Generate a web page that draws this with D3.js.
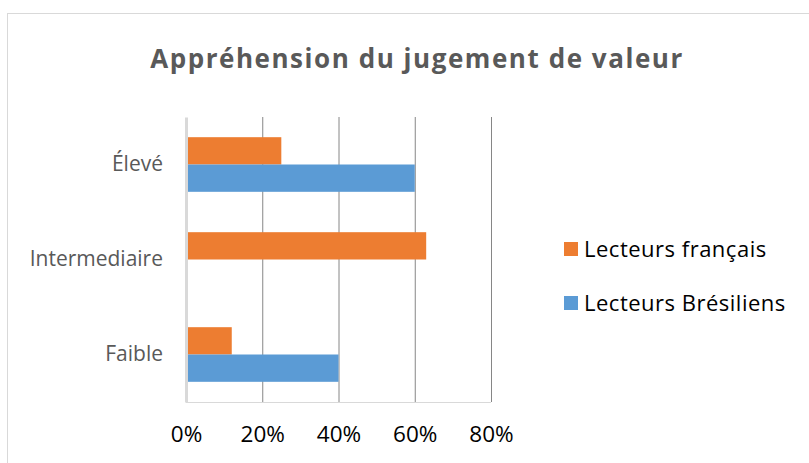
<!DOCTYPE html>
<html>
<head>
<meta charset="utf-8">
<script src="https://d3js.org/d3.v7.min.js"></script>
<style>
  body { margin: 0; background: #fff; }
  text { font-family: "Open Sans", Lato, sans-serif; }
</style>
</head>
<body>
<div id="chart"></div>
<script>
// data
const categories = ["Élevé", "Intermediaire", "Faible"];
const seriesNames = ["Lecteurs français", "Lecteurs Brésiliens"];
const francais = [0.25, 0.63, 0.12];
const bresiliens = [0.60, 0, 0.40];
const xTicks = [0, 0.2, 0.4, 0.6, 0.8];
const colors = ["#ed7d31", "#5b9bd5"];

const W = 809, H = 463;
const margin = {top: 117, right: 318, bottom: 61, left: 186};
const width = W - margin.left - margin.right,
      height = H - margin.top - margin.bottom;

const svg = d3.select("#chart").append("svg")
  .attr("width", W).attr("height", H);

// chart border
svg.append("rect")
  .attr("x", 7.5).attr("y", 13.5)
  .attr("width", W).attr("height", H)
  .attr("fill", "none").attr("stroke", "#d9d9d9").attr("stroke-width", 1);

// title
svg.append("text")
  .attr("x", 417).attr("y", 68)
  .attr("text-anchor", "middle")
  .style("font-size", "26px").style("font-weight", "bold")
  .style("letter-spacing", "1.55px")
  .style("fill", "#595959")
  .text("Appréhension du jugement de valeur");

const g = svg.append("g").attr("transform", `translate(${margin.left},${margin.top})`);

const x = d3.scaleLinear().domain([0, 0.8]).range([0, width]);
const y = d3.scaleBand().domain(categories).range([0, height]).paddingInner(0.425).paddingOuter(0.2125);
const ySub = d3.scaleBand().domain(seriesNames).range([0, y.bandwidth()]);

// faint bottom line of the plot area
g.append("line")
  .attr("x1", 0).attr("x2", x(0.8))
  .attr("y1", height + 0.5).attr("y2", height + 0.5)
  .attr("stroke", "#d9d9d9");

// gridlines + x labels
g.append("g")
  .attr("transform", `translate(0,${height})`)
  .call(d3.axisBottom(x).tickValues(xTicks).tickSize(-height).tickFormat(d3.format(".0%")).tickPadding(24))
  .call(a => a.select(".domain").remove())
  .call(a => a.selectAll(".tick line").attr("stroke", "#868686"))
  .call(a => a.selectAll(".tick").filter(d => d === 0).select("line").remove())
  .call(a => a.selectAll("text").style("font-size", "22.5px").style("fill", "#000").style("font-family", "'Open Sans', sans-serif"));

// bars
const rows = categories.map((c, i) => ({cat: c, vals: [francais[i], bresiliens[i]]}));
const grp = g.selectAll(".cat").data(rows).join("g")
  .attr("transform", d => `translate(0,${y(d.cat)})`);
grp.selectAll("rect")
  .data(d => d.vals.map((v, j) => ({name: seriesNames[j], v, j})))
  .join("rect")
  .attr("x", 0)
  .attr("y", d => ySub(d.name))
  .attr("width", d => x(d.v))
  .attr("height", ySub.bandwidth())
  .attr("fill", d => colors[d.j]);

// y axis
g.append("g")
  .call(d3.axisLeft(y).tickSize(0).tickPadding(23))
  .call(a => a.select(".domain").attr("stroke", "#d9d9d9").attr("stroke-width", 3))
  .call(a => a.selectAll("text").style("font-size", "21px").style("fill", "#595959").style("font-family", "'Open Sans', sans-serif"));

// legend
const legend = svg.append("g").attr("transform", "translate(564,242)");
seriesNames.forEach((n, i) => {
  const row = legend.append("g").attr("transform", `translate(0,${i * 54})`);
  row.append("rect").attr("width", 14).attr("height", 14).attr("fill", colors[i]);
  row.append("text").attr("x", 20).attr("y", 7).attr("dy", "0.35em")
    .style("font-size", "22px").style("letter-spacing", "0.5px").style("fill", "#000").text(n);
});
</script>
</body>
</html>
